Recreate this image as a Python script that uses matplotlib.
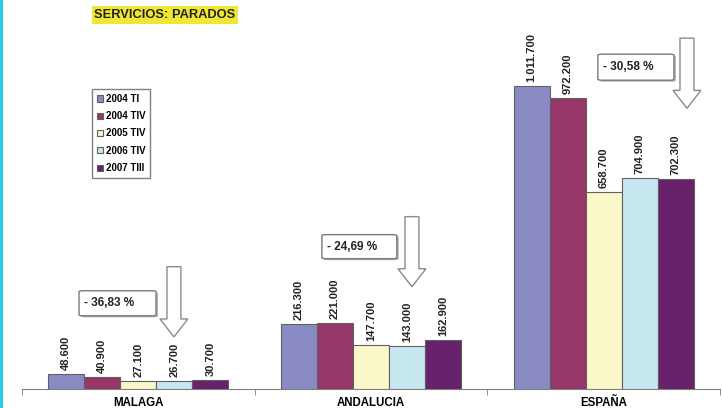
import matplotlib
matplotlib.use("Agg")
import matplotlib.pyplot as plt
import numpy as np
from matplotlib.patches import Polygon, FancyBboxPatch
from matplotlib.lines import Line2D

plt.rcParams["font.family"] = ["Liberation Sans", "DejaVu Sans"]

# Data
regions = ["MALAGA", "ANDALUCIA", "ESPAÑA"]
periods = ["2004 TI", "2004 TIV", "2005 TIV", "2006 TIV", "2007 TIII"]
v_2004_ti = [48600, 216300, 1011700]
v_2004_tiv = [40900, 221000, 972200]
v_2005_tiv = [27100, 147700, 658700]
v_2006_tiv = [26700, 143000, 704900]
v_2007_tiii = [30700, 162900, 702300]
changes = ["- 36,83 %", "- 24,69 %", "- 30,58 %"]

series = [v_2004_ti, v_2004_tiv, v_2005_tiv, v_2006_tiv, v_2007_tiii]
colors = ["#8A8BC4", "#963769", "#FAF7C9", "#C6E7EF", "#67226B"]


def fmt(v):
    return f"{v:,}".replace(",", ".")


# Hollow down arrow: centre x, top of shaft, tip (data coords)
def down_arrow(ax, xc, ytop, ytip, shaft_w=0.06, head_w=0.12, head_len=60000):
    yh = ytip + head_len
    pts = [
        (xc - shaft_w / 2, ytop), (xc + shaft_w / 2, ytop),
        (xc + shaft_w / 2, yh), (xc + head_w / 2, yh),
        (xc, ytip), (xc - head_w / 2, yh), (xc - shaft_w / 2, yh),
    ]
    ax.add_patch(Polygon(pts, closed=True, facecolor="white",
                         edgecolor="#8a8a8a", linewidth=1.0, zorder=4))


def pct_box(ax, x0, x1, y0, y1, text):
    # shadow
    ax.add_patch(FancyBboxPatch((x0 + 0.008, y0 - 5000), x1 - x0, y1 - y0,
                                boxstyle="round,pad=0,rounding_size=0.02",
                                mutation_aspect=150000,
                                facecolor="#b0b0b0", edgecolor="none", zorder=4))
    ax.add_patch(FancyBboxPatch((x0, y0), x1 - x0, y1 - y0,
                                boxstyle="round,pad=0,rounding_size=0.02",
                                mutation_aspect=150000,
                                facecolor="white", edgecolor="#7a7a7a",
                                linewidth=1.0, zorder=5))
    ax.text(x0 + 0.02, (y0 + y1) / 2, text, ha="left", va="center",
            fontsize=8.5, fontweight="bold", color="#222222", zorder=6)


fig = plt.figure(figsize=(7.22, 4.08), dpi=100)
ax = fig.add_axes([22 / 722, 19 / 408, 698 / 722, 389 / 408])

x = np.arange(len(regions))
w = 0.155
for i, (vals, col, lab) in enumerate(zip(series, colors, periods)):
    pos = x + (i - 2) * w
    ax.bar(pos, vals, width=w, color=col, edgecolor="#606060",
           linewidth=0.8, label=lab, zorder=3)
    for px, v in zip(pos, vals):
        ax.text(px, v + 14000, fmt(v), rotation=90, ha="center", va="bottom",
                fontsize=8, fontweight="bold", color="#222222")

ax.set_xlim(-0.5, 2.5)
ax.set_ylim(0, 1300000)
for s in ["top", "right", "left"]:
    ax.spines[s].set_visible(False)
ax.spines["bottom"].set_color("#808080")
ax.set_yticks([])
ax.set_xticks(x)
ax.set_xticklabels(regions, fontsize=8.3, fontweight="bold")
ax.tick_params(axis="x", length=0, pad=6)
ax.set_xticks([-0.5, 0.5, 1.5, 2.5], minor=True)
ax.tick_params(axis="x", which="minor", length=4, color="#808080")

# percentage boxes and arrows
pct_box(ax, -0.255, 0.076, 244600, 328300, changes[0])
down_arrow(ax, 0.153, 408700, 174000)
pct_box(ax, 0.789, 1.111, 435500, 515900, changes[1])
down_arrow(ax, 1.176, 576000, 341700)
pct_box(ax, 1.975, 2.302, 1032000, 1119000, changes[2])
down_arrow(ax, 2.358, 1172500, 938000)

leg = ax.legend(loc="upper left", bbox_to_anchor=(70 / 698, 1 - 89 / 389),
                prop={"weight": "bold", "size": 7}, borderaxespad=0,
                handlelength=0.6, handleheight=0.6, handletextpad=0.3,
                labelspacing=0.75, borderpad=0.5, fancybox=False,
                framealpha=1, edgecolor="#808080")
leg.get_frame().set_linewidth(1.0)

fig.text(165 / 722, 1 - 15 / 408, "SERVICIOS: PARADOS", ha="center",
         va="center", fontsize=9.3, fontweight="bold", color="#222222",
         bbox=dict(boxstyle="square,pad=0.2", facecolor="#EEE835",
                   edgecolor="none"))

# cyan border on the left edge
fig.add_artist(Line2D([1 / 722, 1 / 722], [0, 1], color="#19C8E6",
                      linewidth=2.0, transform=fig.transFigure))

fig.savefig("out.png", dpi=100)
